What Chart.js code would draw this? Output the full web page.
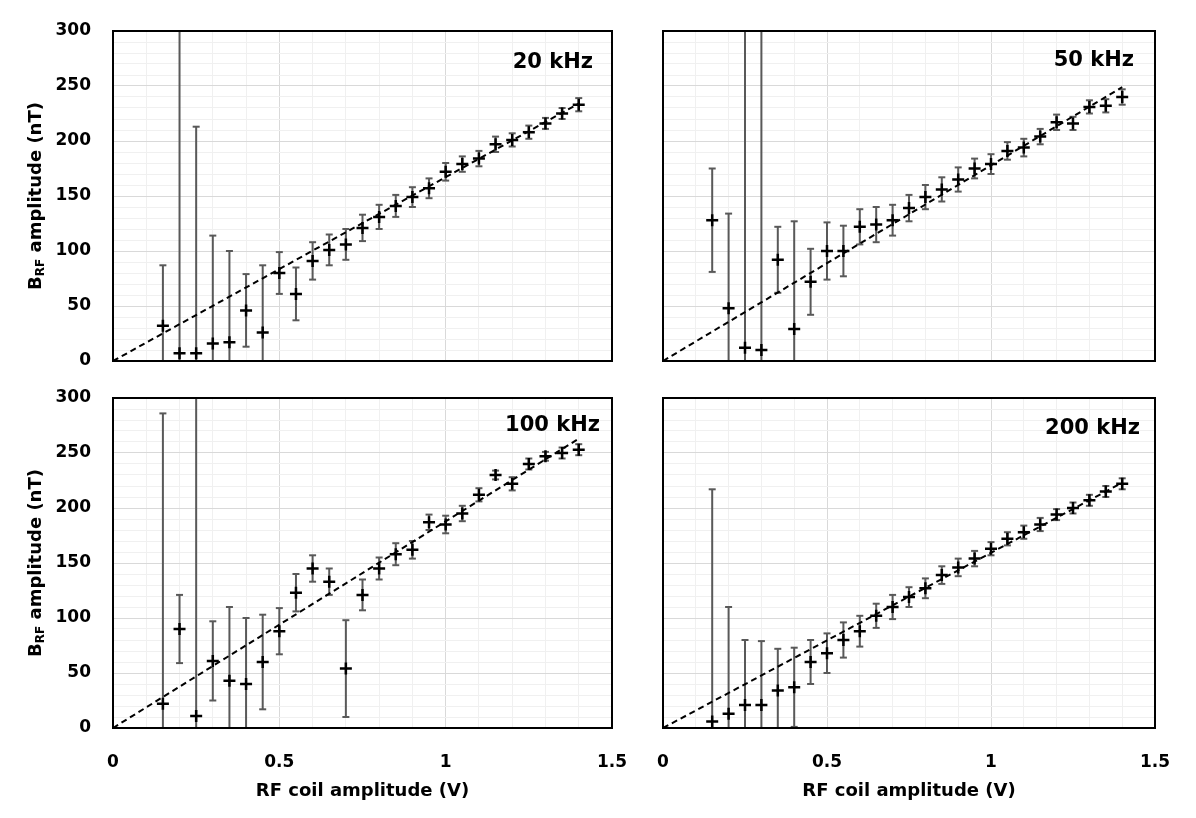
<!DOCTYPE html>
<html>
<head>
<meta charset="utf-8">
<title>B_RF amplitude vs RF coil amplitude</title>
<script src="https://cdn.jsdelivr.net/npm/chart.js@4.4.0/dist/chart.umd.min.js"></script>
<style>
  body { margin: 0; background: #fff; width: 1196px; height: 818px; position: relative; overflow: hidden; }
  canvas { position: absolute; }
</style>
</head>
<body>
<canvas id="c20" width="640" height="380" style="left:0;top:0"></canvas>
<canvas id="c50" width="556" height="380" style="left:640px;top:0"></canvas>
<canvas id="c100" width="640" height="438" style="left:0;top:380px"></canvas>
<canvas id="c200" width="556" height="438" style="left:640px;top:380px"></canvas>
<script>
// RF coil amplitude (V)
const voltages = [0.15, 0.2, 0.25, 0.3, 0.35, 0.4, 0.45, 0.5, 0.55, 0.6, 0.65, 0.7, 0.75,
                  0.8, 0.85, 0.9, 0.95, 1.0, 1.05, 1.1, 1.15, 1.2, 1.25, 1.3, 1.35, 1.4];

// B_RF amplitude (nT) and its uncertainty, per frequency
const b20 = [32, 7, 7, 16, 17, 46, 26, 80, 61, 91, 101, 106, 121, 131, 141, 149, 157, 172, 179, 184, 197, 201, 208, 216, 225, 233];
const e20 = [55, 320, 206, 98, 83, 33, 61, 19, 24, 17, 14, 14, 12, 11, 10, 9, 9, 8, 7, 7, 7, 6, 6, 5, 5, 6];

const b50 = [128, 48, 12, 10, 92, 29, 72, 100, 100, 122, 124, 128, 139, 149, 156, 165, 175, 179, 191, 194, 204, 217, 216, 231, 232, 240];
const e50 = [47, 86, 340, 340, 30, 98, 30, 26, 23, 16, 16, 14, 12, 11, 11, 11, 9, 9, 8, 8, 7, 7, 6, 6, 6, 7];

const b100 = [22, 90, 11, 61, 43, 40, 60, 88, 123, 145, 133, 54, 121, 145, 158, 162, 187, 185, 195, 212, 230, 222, 240, 247, 250, 253];
const e100 = [264, 31, 320, 36, 67, 60, 43, 21, 17, 12, 12, 44, 14, 10, 10, 8, 7, 8, 7, 6, 4, 6, 5, 4, 5, 5];

const b200 = [6, 13, 21, 21, 34, 37, 60, 68, 80, 88, 102, 110, 119, 127, 139, 146, 154, 163, 172, 178, 185, 194, 200, 207, 215, 222];
const e200 = [211, 97, 59, 58, 38, 36, 20, 18, 16, 14, 11, 11, 9, 9, 8, 8, 7, 6, 6, 6, 6, 5, 5, 5, 5, 5];

// linear fit (through origin), end points
const trendX = [0, 1.4];
const trend20 = [0, 234];
const trend50 = [0, 249];
const trend100 = [0, 263];
const trend200 = [0, 223];

const xTicks = [0, 0.5, 1, 1.5];
const yTicks = [0, 50, 100, 150, 200, 250, 300];

const FONT = '"DejaVu Sans", sans-serif';

function near(v, list) {
    return list.some(t => Math.abs(t - v) < 1e-6);
}

// frame, frequency label and the y title with subscript
const decor = {
    id: 'decor',
    afterDraw(chart, args, o) {
        const ctx = chart.ctx;
        const a = chart.chartArea;
        ctx.save();
        ctx.strokeStyle = '#000';
        ctx.lineWidth = 2;
        ctx.strokeRect(a.left, a.top, a.right - a.left, a.bottom - a.top);

        ctx.fillStyle = '#000';
        ctx.font = 'bold 21px ' + FONT;
        ctx.textAlign = 'right';
        ctx.textBaseline = 'middle';
        ctx.fillText(o.label, a.right - o.dx, a.top + o.dy);

        if (o.yTitle) {
            const big = 'bold 18px ' + FONT;
            const small = 'bold 12px ' + FONT;
            ctx.font = big;
            const wB = ctx.measureText('B').width;
            const wRest = ctx.measureText(' amplitude (nT)').width;
            ctx.font = small;
            const wSub = ctx.measureText('RF').width;
            const total = wB + wSub + wRest;
            ctx.translate(36, (a.top + a.bottom) / 2);
            ctx.rotate(-Math.PI / 2);
            ctx.textAlign = 'left';
            ctx.textBaseline = 'middle';
            let x = -total / 2;
            ctx.font = big;
            ctx.fillText('B', x, 0);
            x += wB;
            ctx.font = small;
            ctx.fillText('RF', x, 5);
            x += wSub;
            ctx.font = big;
            ctx.fillText(' amplitude (nT)', x, 0);
        }
        ctx.restore();
    }
};

function makePanel(id, vals, errs, trend, opt) {
    const bars = [];
    const caps = [];
    voltages.forEach((v, i) => {
        bars.push({x: v, y: vals[i] - errs[i]}, {x: v, y: vals[i] + errs[i]}, {x: v, y: null});
        caps.push({x: v, y: vals[i] - errs[i]}, {x: v, y: vals[i] + errs[i]});
    });
    const marks = voltages.map((v, i) => ({x: v, y: vals[i]}));
    const fit = trendX.map((v, i) => ({x: v, y: trend[i]}));

    return new Chart(document.getElementById(id), {
        type: 'scatter',
        data: {
            datasets: [
                {
                    data: marks, order: 0, pointStyle: 'cross', pointRadius: 6,
                    borderColor: '#000', borderWidth: 2.5, clip: 10
                },
                {
                    type: 'line', data: fit, order: 1, borderColor: '#000', borderWidth: 2,
                    borderDash: [6, 4], pointRadius: 0, fill: false, clip: 2
                },
                {
                    data: caps, order: 2, pointStyle: 'line', pointRadius: 3.5,
                    borderColor: '#595959', borderWidth: 2, clip: 0
                },
                {
                    type: 'line', data: bars, order: 3, borderColor: '#595959', borderWidth: 2,
                    pointRadius: 0, spanGaps: false, fill: false, clip: 0
                }
            ]
        },
        options: {
            responsive: false,
            animation: false,
            events: [],
            layout: {padding: {top: opt.top, right: opt.right, left: 0, bottom: 0}},
            plugins: {
                legend: {display: false},
                tooltip: {enabled: false},
                decor: {label: opt.label, dx: opt.dx, dy: opt.dy, yTitle: opt.yTitle}
            },
            scales: {
                x: {
                    type: 'linear', min: 0, max: 1.5,
                    afterFit: s => { s.height = opt.xHeight; },
                    border: {display: false},
                    grid: {
                        drawTicks: true, tickLength: 24, tickColor: 'rgba(0,0,0,0)',
                        color: c => near(c.tick.value, xTicks) ? '#d9d9d9' : '#f0f0f0'
                    },
                    ticks: {
                        display: opt.xLabels, stepSize: 0.1, autoSkip: false, maxRotation: 0,
                        padding: 0, color: '#000', font: {family: FONT, size: 17, weight: 'bold'},
                        callback: v => near(v, xTicks) ? String(Math.round(v * 10) / 10) : ''
                    },
                    title: {
                        display: opt.xLabels, text: 'RF coil amplitude (V)', color: '#000',
                        font: {family: FONT, size: 18, weight: 'bold'}, padding: {top: 4, bottom: 16}
                    }
                },
                y: {
                    type: 'linear', min: 0, max: 300,
                    afterFit: s => { s.width = opt.yWidth; },
                    border: {display: false},
                    grid: {
                        drawTicks: true, tickLength: 22, tickColor: 'rgba(0,0,0,0)',
                        color: c => near(c.tick.value, yTicks) ? '#d9d9d9' : '#f0f0f0'
                    },
                    ticks: {
                        display: opt.yLabels, stepSize: 10, autoSkip: false,
                        padding: 0, color: '#000', font: {family: FONT, size: 17, weight: 'bold'},
                        callback: v => near(v, yTicks) ? String(v) : ''
                    }
                }
            }
        },
        plugins: [decor]
    });
}

makePanel('c20', b20, e20, trend20, {
    label: '20 kHz', dx: 19, dy: 32, top: 31, right: 28, xHeight: 19, yWidth: 113,
    xLabels: false, yLabels: true, yTitle: true
});
makePanel('c50', b50, e50, trend50, {
    label: '50 kHz', dx: 21, dy: 30, top: 31, right: 41, xHeight: 19, yWidth: 23,
    xLabels: false, yLabels: false, yTitle: false
});
makePanel('c100', b100, e100, trend100, {
    label: '100 kHz', dx: 12, dy: 28, top: 18, right: 28, xHeight: 90, yWidth: 113,
    xLabels: true, yLabels: true, yTitle: true
});
makePanel('c200', b200, e200, trend200, {
    label: '200 kHz', dx: 15, dy: 31, top: 18, right: 41, xHeight: 90, yWidth: 23,
    xLabels: true, yLabels: false, yTitle: false
});
</script>
</body>
</html>
